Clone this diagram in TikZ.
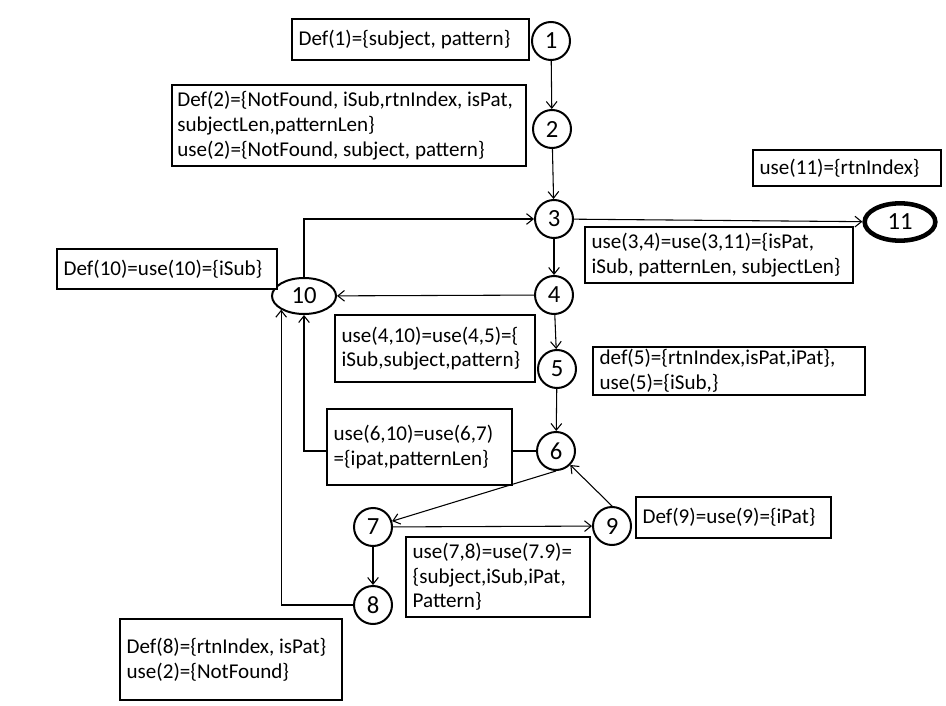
\documentclass[tikz,border=0pt]{standalone}
\usepackage{fontspec}
\setmainfont{Carlito}
\usetikzlibrary{arrows.meta,shapes.geometric}

\begin{document}
\begin{tikzpicture}[x=0.75pt, y=-0.75pt,
    every node/.style={font=\fontsize{15.8pt}{18.5pt}\selectfont},
    vertex/.style={circle, draw, line width=1.5pt, minimum size=28.5pt, inner sep=0pt, fill=white,
        font=\fontsize{18.5pt}{20pt}\selectfont},
    loopnode/.style={ellipse, draw, line width=1.5pt, inner sep=0pt, fill=white,
        font=\fontsize{18.5pt}{20pt}\selectfont},
    infobox/.style={draw, line width=2pt, fill=white, align=flush left, inner xsep=5pt, inner ysep=0pt},
    flow/.style={-{Straight Barb[length=5pt,width=8pt]}, line width=0.8pt}]

    \useasboundingbox (0,0) rectangle (946,706);

    % vertices of the flow graph
    \node[vertex] (1) at (551,41) {1};
    \node[vertex] (2) at (552,129) {2};
    \node[vertex] (3) at (554,219) {3};
    \node[vertex] (4) at (554,295) {4};
    \node[vertex] (5) at (557,369) {5};
    \node[vertex] (6) at (556,451) {6};
    \node[vertex] (7) at (373,527) {7};
    \node[vertex] (8) at (373,605) {8};
    \node[vertex] (9) at (612,526) {9};
    \node[loopnode, minimum width=48pt, minimum height=27pt] (10) at (304,296) {10};
    \node[loopnode, line width=3.4pt, minimum width=53pt, minimum height=28pt] (11) at (900,222) {11};

    \draw[flow] (1) -- (2);
    \draw[flow] (2) -- (3);
    \draw[flow] (3) -- (4);
    \draw[flow] (3) -- (11);
    \draw[flow] (4) -- (10);
    \draw[flow] (4) -- (5);
    \draw[flow] (5) -- (6);
    \draw[flow] (6.south) -- (7);
    \draw[flow] (7) -- (9);
    \draw[flow] (9.north) -- (6);
    \draw[flow] (7) -- (8);
    \draw[flow] (6) -| (10);
    \draw[flow] (8) -| (10.211);
    \draw[flow] (10) |- (3);

    % def/use sets, drawn last so they hide the lines behind them
    \node[infobox, text width=167.8pt, minimum height=30.75pt] (def1) at (410.5,39.5) {Def(1)=\{subject, pattern\}};
    \node[infobox, inner xsep=4pt, text width=257.5pt, minimum height=60.75pt] (def2) at (349,125.5)
        {Def(2)=\{NotFound, iSub,rtnIndex, isPat,\\subjectLen,patternLen\}\\use(2)=\{NotFound, subject, pattern\}};
    \node[infobox, text width=131pt, minimum height=27pt] (use11) at (847,168) {use(11)=\{rtnIndex\}};
    \node[infobox, text width=191pt, minimum height=42pt] (use34) at (719,255)
        {use(3,4)=use(3,11)=\{isPat,\\iSub, patternLen, subjectLen\}};
    \node[infobox, text width=155pt, minimum height=30pt] (def10) at (167,269) {Def(10)=use(10)=\{iSub\}};
    \node[infobox, text width=140pt, minimum height=50.25pt] (use410) at (435,348.5)
        {use(4,10)=use(4,5)=\{\\iSub,subject,pattern\}};
    \node[infobox, text width=194pt, minimum height=36pt] (def5) at (729,371)
        {def(5)=\{rtnIndex,isPat,iPat\},\\use(5)=\{iSub,\}};
    \node[infobox, text width=128.8pt, minimum height=57pt] (use610) at (419.5,447)
        {use(6,10)=use(6,7)\\=\{ipat,patternLen\}};
    \node[infobox, text width=136.3pt, minimum height=30.75pt] (def9) at (733.5,517.5) {Def(9)=use(9)=\{iPat\}};
    \node[infobox, text width=128pt, minimum height=60pt] (use78) at (498,577)
        {use(7,8)=use(7.9)=\\\{subject,iSub,iPat,\\Pattern\}};
    \node[infobox, text width=156.5pt, minimum height=60.75pt] (def8) at (231,659.5)
        {Def(8)=\{rtnIndex, isPat\}\\use(2)=\{NotFound\}};
\end{tikzpicture}
\end{document}
